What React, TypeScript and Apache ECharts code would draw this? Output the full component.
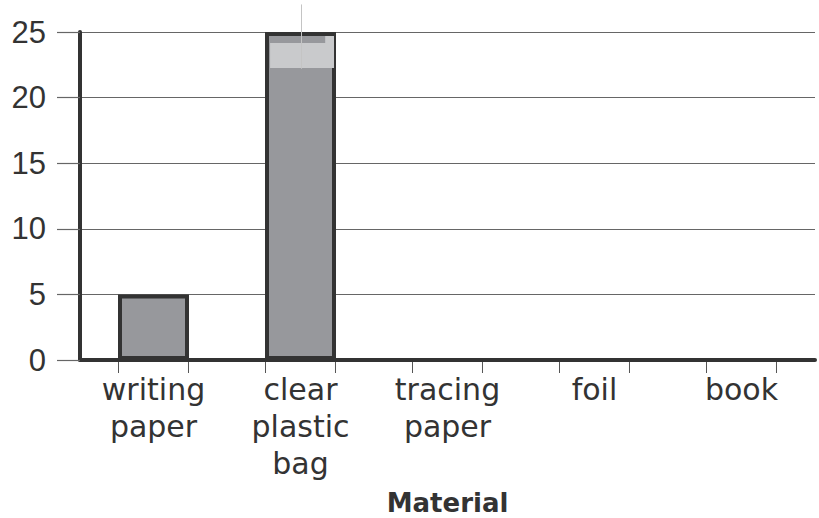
import React, { useEffect, useRef } from "react";
import * as echarts from "echarts";

const categories = ["writing\npaper", "clear\nplastic\nbag", "tracing\npaper", "foil", "book"];
const counts = [5, 25, 0, 0, 0];
const yMin = 0;
const yMax = 25;
const yInterval = 5;
// light reflection patch seen on the tall bar: [category index, low value, high value]
const glarePatch = [[1, 22.26, 24.16]];
const glareLine = [[1, 22.2, 27.1]];

export default function App() {
  const ref = useRef<HTMLDivElement>(null);
  useEffect(() => {
    document.body.style.margin = "0";
    const chart = echarts.init(ref.current!, null, { renderer: "svg" });
    const font = "Liberation Sans, Arial, sans-serif";
    const labelFont = "DejaVu Sans, sans-serif";
    chart.setOption({
      animation: false,
      backgroundColor: "#ffffff",
      grid: {
        left: 80,
        right: 4,
        top: 32,
        bottom: 158,
        containLabel: false,
        outerBoundsMode: "none",
      },
      xAxis: {
        type: "category",
        data: categories,
        name: "Material",
        nameLocation: "middle",
        nameGap: 130,
        nameTextStyle: { fontFamily: labelFont, fontSize: 26, fontWeight: "bold", color: "#333" },
        axisLine: { show: true, lineStyle: { color: "#333", width: 4 } },
        axisTick: { show: false },
        axisLabel: {
          fontFamily: labelFont,
          fontSize: 30,
          color: "#333",
          lineHeight: 37,
          margin: 11,
          interval: 0,
        },
        splitLine: { show: false },
      },
      yAxis: {
        type: "value",
        min: yMin,
        max: yMax,
        interval: yInterval,
        axisLine: { show: true, lineStyle: { color: "#333", width: 4 } },
        axisTick: { show: true, length: 23, lineStyle: { color: "#666", width: 1.2 } },
        axisLabel: { fontFamily: font, fontSize: 31, color: "#333", margin: 34 },
        splitLine: { show: true, lineStyle: { color: "#666", width: 1.2 } },
      },
      series: [
        {
          type: "bar",
          data: counts,
          barWidth: 71,
          itemStyle: { color: "#97989c", borderColor: "#333", borderWidth: 4 },
          z: 3,
        },
        {
          type: "custom",
          data: glarePatch,
          z: 4,
          clip: false,
          renderItem: (params: any, api: any) => {
            const top = api.coord([api.value(0), api.value(2)]);
            const bot = api.coord([api.value(0), api.value(1)]);
            const band = api.size([1, 0])[0];
            const x0 = top[0] - band * 0.207;
            const x1 = top[0] + band * 0.228;
            return {
              type: "group",
              children: [
                {
                  type: "rect",
                  shape: { x: x0, y: top[1], width: x1 - x0, height: bot[1] - top[1] },
                  style: { fill: "#c9cacc" },
                },
                {
                  type: "rect",
                  shape: { x: x1 - band * 0.06, y: top[1] - 7, width: band * 0.06, height: 7 },
                  style: { fill: "#c9cacc" },
                },
              ],
            };
          },
        },
        {
          type: "custom",
          data: glareLine,
          z: 5,
          clip: false,
          renderItem: (params: any, api: any) => {
            const a = api.coord([api.value(0), api.value(1)]);
            const b = api.coord([api.value(0), api.value(2)]);
            return {
              type: "line",
              shape: { x1: a[0] + 1, y1: a[1], x2: b[0] + 1, y2: b[1] },
              style: { stroke: "#c4c4c4", lineWidth: 1 },
            };
          },
        },
        {
          type: "custom",
          data: categories.map((_, i) => [i]),
          z: 2,
          clip: false,
          renderItem: (params: any, api: any) => {
            const c = api.coord([api.value(0), 0]);
            const band = api.size([1, 0])[0];
            const half = band * 0.238;
            const mk = (x: number) => ({
              type: "line",
              shape: { x1: x, y1: c[1] + 2, x2: x, y2: c[1] + 13 },
              style: { stroke: "#555", lineWidth: 1 },
            });
            return { type: "group", children: [mk(c[0] - half), mk(c[0] + half)] };
          },
        },
      ],
    });
    return () => chart.dispose();
  }, []);
  return <div ref={ref} style={{ width: 819, height: 518 }} />;
}
